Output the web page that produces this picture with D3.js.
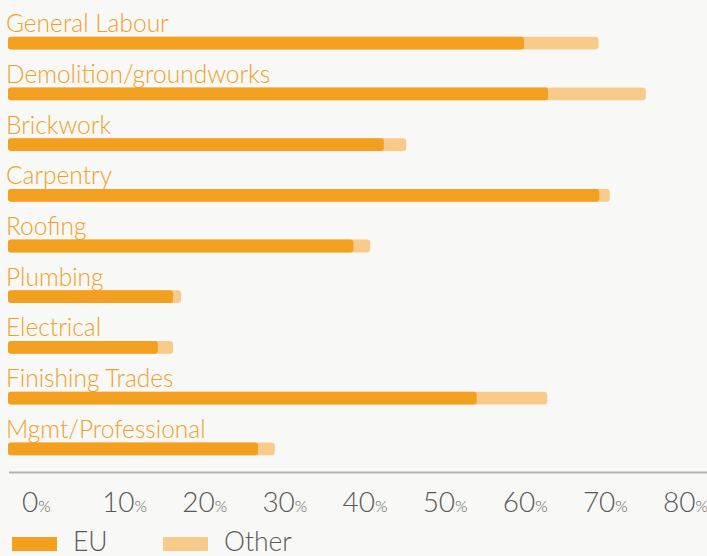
<!DOCTYPE html>
<html>
<head>
<meta charset="utf-8">
<script src="https://cdn.jsdelivr.net/npm/d3@7"></script>
<style>
  html, body { margin: 0; padding: 0; background: #f8f8f6; }
  svg { display: block; }
  text { font-family: Lato, "Open Sans", sans-serif; }
</style>
</head>
<body>
<svg id="chart" width="707" height="556"></svg>
<script>
// Share of workers by trade, split by origin (percent)
const categories = [
  "General Labour", "Demolition/groundworks", "Brickwork", "Carpentry",
  "Roofing", "Plumbing", "Electrical", "Finishing Trades", "Mgmt/Professional"
];
const euValues    = [64.4, 67.4, 46.9, 73.8, 43.1, 20.6, 18.7, 58.5, 31.2];
const otherValues = [ 9.3, 12.2,  2.8,  1.3,  2.1,  1.0,  1.9,  8.8,  2.1];
const tickValues  = [0, 10, 20, 30, 40, 50, 60, 70, 80];
const seriesNames = ["EU", "Other"];

const colors = { EU: "#f3a021", Other: "#f8cb8b" };
const labelColor = "#f19f27";
const textGrey = "#595959";

const svg = d3.select("#chart");
const W = 707;

const x = d3.scaleLinear().domain([0, 80]).range([8, 649]);
const y = d3.scalePoint().domain(categories).range([43.2, 448.8]);
const barH = 12.8;

const rows = categories.map((c, i) => ({
  cat: c, eu: euValues[i], other: otherValues[i]
}));

const row = svg.append("g").selectAll("g.row").data(rows).join("g").attr("class", "row");

// full bar (EU + Other) in the light tone, EU portion drawn on top
row.append("rect")
  .attr("x", x(0))
  .attr("y", d => y(d.cat) - barH / 2)
  .attr("width", d => x(d.eu + d.other) - x(0))
  .attr("height", barH)
  .attr("rx", 3).attr("ry", 3)
  .attr("fill", colors.Other);

row.append("rect")
  .attr("x", x(0))
  .attr("y", d => y(d.cat) - barH / 2)
  .attr("width", d => x(d.eu) - x(0))
  .attr("height", barH)
  .attr("rx", 3).attr("ry", 3)
  .attr("fill", colors.EU);

row.append("text")
  .attr("x", 6)
  .attr("y", d => y(d.cat) - barH / 2 - 4.6)
  .attr("fill", labelColor)
  .attr("font-size", 24.5)
  .attr("font-weight", 300)
  .text(d => d.cat);

// baseline axis
const axisY = 472.5;
const axis = d3.axisBottom(x).tickValues(tickValues).tickSize(0).tickFormat("");
const axG = svg.append("g").attr("transform", `translate(0,${axisY})`).call(axis);
axG.select(".domain").remove();
svg.append("line")
  .attr("x1", 9).attr("x2", W)
  .attr("y1", axisY).attr("y2", axisY)
  .attr("stroke", "#b3b3b3").attr("stroke-width", 1.8);

axG.selectAll(".tick text").remove();
axG.selectAll(".tick").append("text")
  .attr("x", 13.5)
  .attr("y", 39.5)
  .attr("text-anchor", "start")
  .attr("fill", textGrey)
  .attr("font-weight", 300)
  .each(function(d) {
    const t = d3.select(this);
    t.append("tspan").attr("font-size", 28).text(d);
    t.append("tspan").attr("font-size", 16).text("%");
  });

// legend
const legend = svg.append("g");
const legendX = [12, 163];
seriesNames.forEach((name, i) => {
  legend.append("rect")
    .attr("x", legendX[i]).attr("y", 537)
    .attr("width", 45).attr("height", 14)
    .attr("fill", colors[name]);
  legend.append("text")
    .attr("x", legendX[i] + 61).attr("y", 551)
    .attr("fill", textGrey)
    .attr("font-size", 26.5)
    .attr("font-weight", 300)
    .text(name);
});
</script>
</body>
</html>
